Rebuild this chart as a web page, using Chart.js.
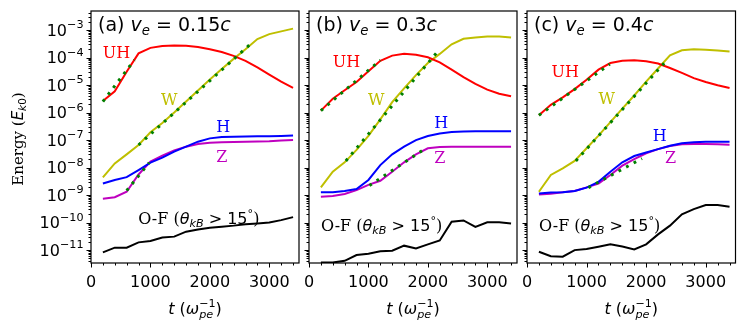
<!DOCTYPE html>
<html>
<head>
<meta charset="utf-8">
<script src="https://cdn.jsdelivr.net/npm/chart.js@4.4.0/dist/chart.umd.min.js"></script>
<style>
    html, body { margin: 0; padding: 0; background: #ffffff; }
    #wrap { position: relative; width: 747px; height: 331px; }
    #wrap canvas { position: absolute; left: 0; top: 0; }
</style>
</head>
<body>
<div id="wrap">
    <canvas id="panelA" width="747" height="331"></canvas>
    <canvas id="panelB" width="747" height="331"></canvas>
    <canvas id="panelC" width="747" height="331"></canvas>
</div>
<script>
// time samples (omega_pe^-1)
var times = [200, 400, 600, 800, 1000, 1200, 1400, 1600, 1800, 2000, 2200, 2400, 2600, 2800, 3000, 3200, 3400];
var xMajorTicks = [0, 1000, 2000, 3000];
var yDecades = [-11, -10, -9, -8, -7, -6, -5, -4, -3];

// (a) v_e = 0.15c
var uhA = [2.63e-6, 5.89e-6, 3.02e-5, 1.41e-4, 2.24e-4, 2.63e-4, 2.75e-4, 2.69e-4, 2.40e-4, 2.0e-4, 1.58e-4, 1.15e-4, 7.59e-5, 4.37e-5, 2.40e-5, 1.32e-5, 7.94e-6];
var wA = [4.37e-9, 1.41e-8, 3.02e-8, 6.61e-8, 1.91e-7, 4.17e-7, 1.0e-6, 2.51e-6, 6.31e-6, 1.58e-5, 3.80e-5, 8.91e-5, 2.0e-4, 4.68e-4, 7.08e-4, 8.91e-4, 1.12e-3];
var hA = [2.63e-9, 3.55e-9, 4.47e-9, 8.13e-9, 1.51e-8, 2.29e-8, 3.80e-8, 5.75e-8, 8.71e-8, 1.15e-7, 1.29e-7, 1.32e-7, 1.35e-7, 1.38e-7, 1.38e-7, 1.41e-7, 1.45e-7];
var zA = [7.41e-10, 8.32e-10, 1.32e-9, 5.62e-9, 1.66e-8, 2.69e-8, 4.17e-8, 5.75e-8, 7.24e-8, 7.94e-8, 8.32e-8, 8.51e-8, 8.71e-8, 8.91e-8, 9.12e-8, 9.55e-8, 1.0e-7];
var ofA = [8.32e-12, 1.23e-11, 1.23e-11, 1.91e-11, 2.14e-11, 2.88e-11, 3.09e-11, 4.68e-11, 5.62e-11, 6.46e-11, 7.08e-11, 7.76e-11, 8.71e-11, 9.33e-11, 1.0e-10, 1.23e-10, 1.58e-10];
var uhFitTA = [200, 730], uhFitA = [2.51e-6, 8.1e-5];
var wFitTA = [800, 2730], wFitA = [6.61e-8, 3.80e-4];
var zFitTA = [600, 980], zFitA = [1.45e-9, 1.51e-8];

// (b) v_e = 0.3c
var uhB = [1.17e-6, 3.16e-6, 6.46e-6, 1.29e-5, 3.16e-5, 7.59e-5, 1.17e-4, 1.38e-4, 1.26e-4, 1.02e-4, 6.61e-5, 3.63e-5, 1.95e-5, 1.10e-5, 6.76e-6, 4.79e-6, 3.89e-6];
var wB = [1.91e-9, 7.08e-9, 1.55e-8, 4.37e-8, 1.41e-7, 5.62e-7, 2.40e-6, 7.59e-6, 2.29e-5, 6.31e-5, 1.35e-4, 3.02e-4, 4.79e-4, 5.37e-4, 5.75e-4, 5.75e-4, 5.37e-4];
var hB = [1.26e-9, 1.26e-9, 1.41e-9, 1.66e-9, 3.55e-9, 1.23e-8, 3.02e-8, 5.75e-8, 1.0e-7, 1.41e-7, 1.74e-7, 1.95e-7, 2.04e-7, 2.09e-7, 2.09e-7, 2.09e-7, 2.09e-7];
var zB = [8.71e-10, 9.33e-10, 1.10e-9, 1.51e-9, 2.34e-9, 3.31e-9, 7.08e-9, 1.55e-8, 3.02e-8, 5.01e-8, 5.62e-8, 5.75e-8, 5.75e-8, 5.75e-8, 5.75e-8, 5.75e-8, 5.75e-8];
var ofB = [3.55e-12, 3.55e-12, 4.07e-12, 6.61e-12, 7.41e-12, 9.12e-12, 9.55e-12, 1.45e-11, 1.15e-11, 1.62e-11, 2.24e-11, 1.07e-10, 1.20e-10, 6.92e-11, 1.02e-10, 1.02e-10, 9.33e-11];
var uhFitTB = [200, 1200], uhFitB = [1.17e-6, 7.94e-5];
var wFitTB = [620, 2190], wFitB = [1.74e-8, 1.91e-4];
var zFitTB = [1017, 1983], zFitB = [2.24e-9, 5.37e-8];

// (c) v_e = 0.4c
var uhC = [7.94e-7, 1.91e-6, 3.55e-6, 7.08e-6, 1.55e-5, 3.63e-5, 6.31e-5, 7.59e-5, 7.94e-5, 7.24e-5, 6.03e-5, 4.17e-5, 2.75e-5, 1.78e-5, 1.29e-5, 9.77e-6, 7.76e-6];
var wC = [1.32e-9, 5.37e-9, 9.33e-9, 1.74e-8, 5.01e-8, 1.45e-7, 4.47e-7, 1.38e-6, 4.17e-6, 1.32e-5, 3.98e-5, 1.20e-4, 1.82e-4, 2.0e-4, 1.91e-4, 1.78e-4, 1.66e-4];
var hC = [1.15e-9, 1.23e-9, 1.26e-9, 1.41e-9, 1.86e-9, 3.02e-9, 7.08e-9, 1.55e-8, 2.63e-8, 3.55e-8, 4.68e-8, 6.17e-8, 7.59e-8, 8.32e-8, 8.71e-8, 8.71e-8, 8.71e-8];
var zC = [1.05e-9, 1.12e-9, 1.26e-9, 1.41e-9, 1.91e-9, 2.63e-9, 5.37e-9, 1.17e-8, 2.04e-8, 3.31e-8, 4.68e-8, 6.03e-8, 7.08e-8, 7.24e-8, 7.24e-8, 7.08e-8, 6.76e-8];
var ofC = [8.71e-12, 6.03e-12, 5.75e-12, 1.0e-11, 1.10e-11, 1.32e-11, 1.62e-11, 1.35e-11, 1.05e-11, 1.62e-11, 3.72e-11, 7.76e-11, 2.0e-10, 3.09e-10, 4.37e-10, 4.37e-10, 3.80e-10];
var uhFitTC = [200, 1390], uhFitC = [7.94e-7, 5.75e-5];
var wFitTC = [820, 2355], wFitC = [1.74e-8, 8.32e-5];
var zFitTC = [1030, 1930], zFitC = [1.86e-9, 2.14e-8];

(function () {
    var SANS = '"DejaVu Sans"';
    var SERIF = '"DejaVu Serif"';
    var COLORS = { uh: '#ff0000', w: '#bfbf00', h: '#0000ff', z: '#bf00bf', of: '#000000', fit: '#008000' };

    function font(size, family, style) {
        return (style || 'normal') + ' ' + size + 'px ' + family;
    }

    function pairs(xs, ys) {
        return xs.map(function (x, i) {
            return { x: x, y: ys[i] };
        });
    }

    // draws a run of text pieces; "over" pieces share x with the next one (sub + sup)
    function drawRich(ctx, parts, x, y, align) {
        var widths = parts.map(function (p) {
            ctx.font = p.font;
            return ctx.measureText(p.text).width;
        });
        var total = 0, pending = 0;
        parts.forEach(function (p, i) {
            if (p.over) {
                pending = widths[i];
            } else {
                total += Math.max(widths[i], pending);
                pending = 0;
            }
        });
        var cx = align === 'center' ? x - total / 2 : (align === 'right' ? x - total : x);
        pending = 0;
        ctx.textAlign = 'left';
        ctx.textBaseline = 'alphabetic';
        parts.forEach(function (p, i) {
            ctx.font = p.font;
            ctx.fillStyle = p.color || ctx.fillStyle;
            ctx.fillText(p.text, cx, y + (p.dy || 0));
            if (p.over) {
                pending = widths[i];
            } else {
                cx += Math.max(widths[i], pending);
                pending = 0;
            }
        });
    }

    function ofLabel(color) {
        return [
            { text: 'O-F (', font: font(16, SERIF), color: color },
            { text: '\u03b8', font: font(16, SANS, 'italic') },
            { text: 'kB', font: font(11.2, SANS, 'italic'), dy: 3.5 },
            { text: ' > 15', font: font(16, SANS) },
            { text: '\u00b0', font: font(11.2, SANS), dy: -7 },
            { text: ')', font: font(16, SERIF) }
        ];
    }

    var panels = [
        {
            id: 'panelA', left: 91, right: 299, tag: '(a) ', speed: '0.15', yLabels: true,
            uh: uhA, w: wA, h: hA, z: zA, of: ofA,
            fits: [[uhFitTA, uhFitA], [wFitTA, wFitA], [zFitTA, zFitA]],
            notes: { uh: [430, 1.58e-4], w: [1315, 3.1e-6], h: [2226, 3.1e-7], z: [2200, 2.5e-8], of: [793, 1.5e-10] }
        },
        {
            id: 'panelB', left: 309, right: 517, tag: '(b) ', speed: '0.3', yLabels: false,
            uh: uhB, w: wB, h: hB, z: zB, of: ofB,
            fits: [[uhFitTB, uhFitB], [wFitTB, wFitB], [zFitTB, zFitB]],
            notes: { uh: [632, 7.4e-5], w: [1130, 3.1e-6], h: [2226, 4.5e-7], z: [2200, 2.4e-8], of: [202, 8.1e-11] }
        },
        {
            id: 'panelC', left: 527, right: 735.5, tag: '(c) ', speed: '0.4', yLabels: false,
            uh: uhC, w: wC, h: hC, z: zC, of: ofC,
            fits: [[uhFitTC, uhFitC], [wFitTC, wFitC], [zFitTC, zFitC]],
            notes: { uh: [641, 3.1e-5], w: [1340, 3.4e-6], h: [2226, 1.45e-7], z: [2411, 2.4e-8], of: [202, 8.1e-11] }
        }
    ];

    function framePlugin(panel) {
        return {
            id: 'frame' + panel.id,
            afterDraw: function (chart) {
                var ctx = chart.ctx;
                var area = chart.chartArea;
                var xs = chart.scales.x;
                var ys = chart.scales.y;
                ctx.save();

                // text annotations in data space
                var n = panel.notes;
                var labelOf = function (key, text, color) {
                    ctx.font = font(16, SERIF);
                    ctx.fillStyle = color;
                    ctx.textAlign = 'center';
                    ctx.textBaseline = 'alphabetic';
                    ctx.fillText(text, xs.getPixelForValue(n[key][0]), ys.getPixelForValue(n[key][1]) + 5.8);
                };
                labelOf('uh', 'UH', COLORS.uh);
                labelOf('w', 'W', COLORS.w);
                labelOf('h', 'H', COLORS.h);
                labelOf('z', 'Z', COLORS.z);
                ctx.fillStyle = '#000';
                drawRich(ctx, ofLabel('#000'), xs.getPixelForValue(n.of[0]), ys.getPixelForValue(n.of[1]) + 5.8, 'left');

                // panel title
                ctx.fillStyle = '#000';
                drawRich(ctx, [
                    { text: panel.tag, font: font(19, SANS) },
                    { text: 'v', font: font(19, SANS, 'italic') },
                    { text: 'e', font: font(13.3, SANS, 'italic'), dy: 4 },
                    { text: ' = ' + panel.speed, font: font(19, SANS) },
                    { text: 'c', font: font(19, SANS, 'italic') }
                ], area.left + 7, area.top + 19.5, 'left');

                // spines
                ctx.strokeStyle = '#000';
                ctx.lineWidth = 1.2;
                ctx.strokeRect(area.left, area.top, area.right - area.left, area.bottom - area.top);

                // x ticks
                ctx.lineWidth = 1;
                ctx.beginPath();
                for (var t = 0; t <= 3500; t += 200) {
                    var px = Math.round(xs.getPixelForValue(t)) + 0.5;
                    var major = xMajorTicks.indexOf(t) >= 0;
                    ctx.moveTo(px, area.bottom);
                    ctx.lineTo(px, area.bottom + (major ? 4.5 : 2.5));
                }
                // y ticks
                for (var d = -12; d <= -3; d++) {
                    for (var k = 1; k <= 9; k++) {
                        var v = k * Math.pow(10, d);
                        if (v < ys.min || v > ys.max) {
                            continue;
                        }
                        var py = Math.round(ys.getPixelForValue(v)) + 0.5;
                        ctx.moveTo(area.left, py);
                        ctx.lineTo(area.left - (k === 1 ? 4.5 : 2.5), py);
                    }
                }
                ctx.stroke();

                // x tick labels
                ctx.fillStyle = '#000';
                ctx.font = font(16, SANS);
                ctx.textAlign = 'center';
                ctx.textBaseline = 'alphabetic';
                xMajorTicks.forEach(function (tick) {
                    ctx.fillText(String(tick), xs.getPixelForValue(tick), area.bottom + 24);
                });

                // y tick labels (left panel only)
                if (panel.yLabels) {
                    yDecades.forEach(function (e) {
                        var py = ys.getPixelForValue(Math.pow(10, e));
                        drawRich(ctx, [
                            { text: '10', font: font(16, SANS) },
                            { text: '\u2212' + Math.abs(e), font: font(11.2, SANS), dy: -7.5 }
                        ], area.left - 7.5, py + 5.8, 'right');
                    });
                    ctx.save();
                    ctx.translate(22.5, 139);
                    ctx.rotate(-Math.PI / 2);
                    drawRich(ctx, [
                        { text: 'Energy (', font: font(15, SERIF) },
                        { text: 'E', font: font(15, SANS, 'italic') },
                        { text: 'k', font: font(10.5, SANS, 'italic'), dy: 3 },
                        { text: '0', font: font(10.5, SANS), dy: 3 },
                        { text: ')', font: font(15, SERIF) }
                    ], 0, 0, 'center');
                    ctx.restore();
                }

                // x axis title
                drawRich(ctx, [
                    { text: 't', font: font(16, SANS, 'italic') },
                    { text: ' (', font: font(16, SANS) },
                    { text: '\u03c9', font: font(16, SANS, 'italic') },
                    { text: 'pe', font: font(11.2, SANS, 'italic'), dy: 4, over: true },
                    { text: '\u22121', font: font(11.2, SANS), dy: -7 },
                    { text: ')', font: font(16, SANS) }
                ], (area.left + area.right) / 2, 314, 'center');

                ctx.restore();
            }
        };
    }

    function curve(values, color) {
        return {
            data: pairs(times, values),
            borderColor: color,
            borderWidth: 2,
            pointRadius: 0,
            fill: false,
            order: 1
        };
    }

    function fitLine(fit) {
        return {
            data: pairs(fit[0], fit[1]),
            borderColor: COLORS.fit,
            borderWidth: 3,
            borderDash: [2.8, 5.8],
            borderCapStyle: 'butt',
            pointRadius: 0,
            fill: false,
            order: 0
        };
    }

    function drawPanel(panel) {
        var canvas = document.getElementById(panel.id);
        if (!canvas || !window.Chart) {
            return;
        }

        var datasets = [
            curve(panel.uh, COLORS.uh),
            curve(panel.w, COLORS.w),
            curve(panel.h, COLORS.h),
            curve(panel.z, COLORS.z),
            curve(panel.of, COLORS.of)
        ].concat(panel.fits.map(fitLine));

        new Chart(canvas, {
            type: 'line',
            data: { datasets: datasets },
            options: {
                responsive: false,
                animation: false,
                events: [],
                layout: {
                    padding: { left: panel.left, right: 747 - panel.right, top: 11, bottom: 331 - 263 }
                },
                elements: { line: { tension: 0 } },
                plugins: {
                    legend: { display: false },
                    tooltip: { enabled: false }
                },
                scales: {
                    x: { type: 'linear', min: 0, max: 3500, display: false },
                    y: { type: 'logarithmic', min: 3.4e-12, max: 4.9e-3, display: false }
                }
            },
            plugins: [framePlugin(panel)]
        });
    }

    panels.forEach(drawPanel);
})();
</script>
</body>
</html>
